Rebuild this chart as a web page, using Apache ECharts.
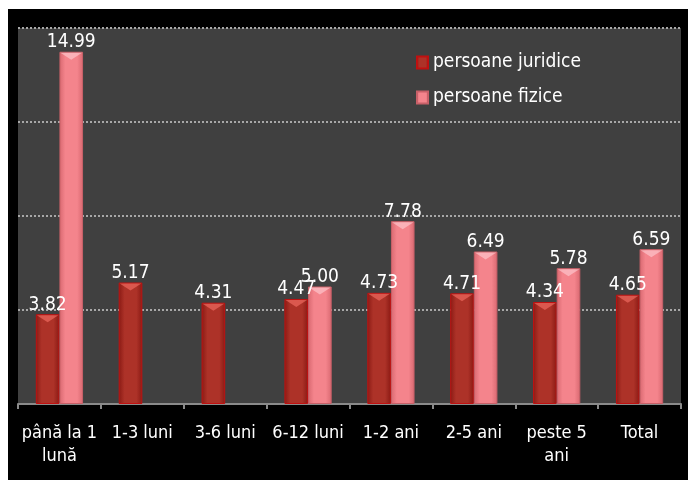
<!DOCTYPE html>
<html>
<head>
<meta charset="utf-8">
<script src="https://cdn.jsdelivr.net/npm/echarts@6/dist/echarts.min.js"></script>
<style>
  html, body { margin: 0; padding: 0; background: #fff; }
  #chart { width: 688px; height: 480px; }
</style>
</head>
<body>
<div id="chart"></div>
<script>
const categories = ['până la 1\nlună', '1-3 luni', '3-6 luni', '6-12 luni', '1-2 ani', '2-5 ani', 'peste 5\nani', 'Total']
const juridice = [3.82, 5.17, 4.31, 4.47, 4.73, 4.71, 4.34, 4.65]
const fizice = [14.99, null, null, 5.00, 7.78, 6.49, 5.78, 6.59]
const seriesNames = ['persoane juridice', 'persoane fizice']

const font = 'DejaVu Sans Condensed'
const gapRatio = 0.43

function hGrad(edge, mid) {
  return new echarts.graphic.LinearGradient(0, 0, 1, 0, [
    { offset: 0, color: edge },
    { offset: 0.25, color: mid },
    { offset: 0.75, color: mid },
    { offset: 1, color: edge },
  ])
}

// lighter bevel notch on top of each bar
function bevel(values, side, fill) {
  return {
    type: 'custom',
    silent: true,
    z: 3,
    data: values.map((v, i) => [i, v]),
    renderItem: (params, api) => {
      const v = api.value(1)
      if (v == null || isNaN(v)) return
      const p = api.coord([api.value(0), v])
      const band = api.size([1, 0])[0]
      const w = band * (1 - gapRatio) / 2
      const x0 = side < 0 ? p[0] - w : p[0]
      const h = 8
      return {
        type: 'polygon',
        shape: { points: [[x0 + 1, p[1] + 1], [x0 + w - 1, p[1] + 1], [x0 + w / 2, p[1] + h]] },
        style: { fill },
      }
    },
  }
}

const chart = echarts.init(document.getElementById('chart'))

chart.setOption({
  backgroundColor: '#fff',
  animation: false,
  graphic: [
    { type: 'rect', left: 8, top: 9, shape: { width: 680, height: 471 }, style: { fill: '#000' }, z: -10 },
  ],
  legend: {
    orient: 'vertical',
    left: 416,
    top: 53,
    padding: 0,
    icon: 'rect',
    itemWidth: 11,
    itemHeight: 12,
    itemGap: 16,
    textStyle: { color: '#fff', fontSize: 19, fontFamily: font, padding: [0, 0, 0, 0] },
    data: seriesNames,
  },
  grid: {
    left: 18, right: 7, top: 28, bottom: 76,
    show: true, backgroundColor: '#404040', borderWidth: 0,
  },
  xAxis: {
    type: 'category',
    data: categories,
    axisLine: { lineStyle: { color: '#8a8a8a', width: 2 } },
    axisTick: { show: true, length: 5, lineStyle: { color: '#8a8a8a', width: 2 } },
    axisLabel: {
      color: '#fff', fontSize: 18, fontFamily: font, margin: 18,
      lineHeight: 23, interval: 0,
    },
  },
  yAxis: {
    type: 'value',
    min: 0, max: 16, interval: 4,
    axisLabel: { show: false },
    axisLine: { show: false },
    axisTick: { show: false },
    splitLine: { lineStyle: { color: '#a8a8a8', type: [2, 2], width: 2 } },
  },
  series: [
    {
      name: seriesNames[0],
      type: 'bar',
      data: juridice,
      barGap: '0%',
      barCategoryGap: gapRatio * 100 + '%',
      itemStyle: { color: hGrad('#8a1a14', '#ad3228'), borderColor: '#c01010', borderWidth: 1 },
      label: {
        show: true, position: 'top', distance: 0, color: '#fff',
        fontSize: 19, fontFamily: font, formatter: p => p.value.toFixed(2),
      },
    },
    {
      name: seriesNames[1],
      type: 'bar',
      data: fizice,
      itemStyle: { color: hGrad('#d86870', '#f4848c'), borderColor: '#c86068', borderWidth: 1 },
      label: {
        show: true, position: 'top', distance: 0, color: '#fff',
        fontSize: 19, fontFamily: font,
        formatter: p => (p.value == null ? '' : p.value.toFixed(2)),
      },
    },
    bevel(juridice, -1, 'rgba(255,120,110,0.55)'),
    bevel(fizice, 1, 'rgba(255,215,220,0.55)'),
  ],
})
</script>
</body>
</html>
